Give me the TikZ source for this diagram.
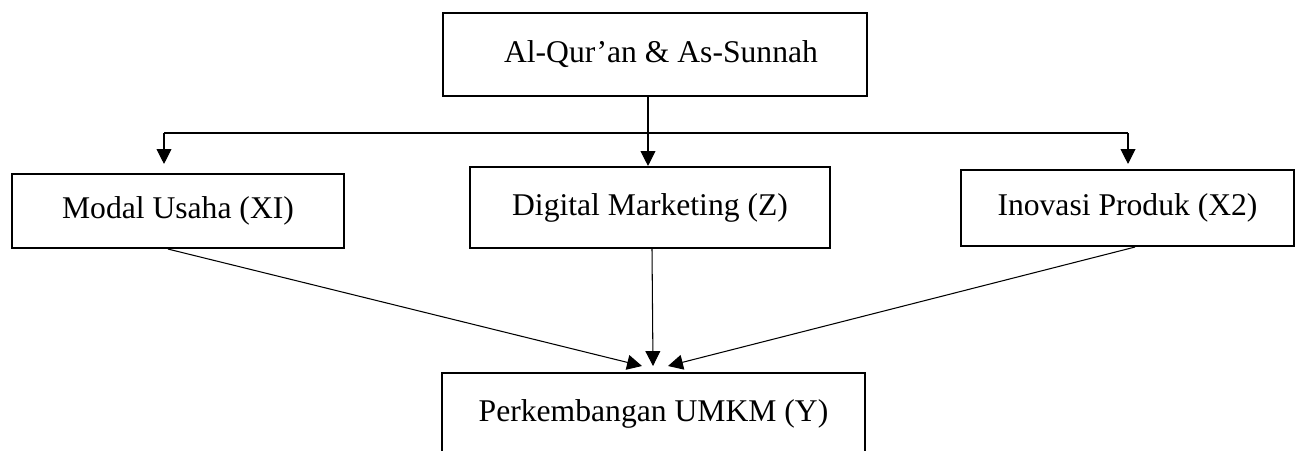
\documentclass[tikz,border=0pt]{standalone}
\usepackage{fontspec}
\setmainfont{Liberation Serif}
\usetikzlibrary{arrows.meta}

\tikzset{
  kotak/.style={draw, line width=1.2pt, inner sep=0pt, font=\fontsize{18}{22}\selectfont},
  panah/.style={-{Triangle[width=8.5pt,length=8.5pt]}, line width=0.6pt},
  garis/.style={line width=0.6pt}
}

\begin{document}
\begin{tikzpicture}[x=0.02cm, y=-0.02cm]
    \useasboundingbox (0,0) rectangle (1301,450);

    \node[kotak, minimum width=8.48cm, minimum height=1.66cm] (quran) at (655,54.5) {\hspace{0.24cm}Al-Qur’an \& As-Sunnah};
    \node[kotak, minimum width=6.64cm, minimum height=1.48cm] (modal) at (178,211) {Modal Usaha (XI)};
    \node[kotak, minimum width=7.2cm, minimum height=1.62cm] (digital) at (650,207.5) {Digital Marketing (Z)};
    \node[kotak, minimum width=6.66cm, minimum height=1.52cm] (inovasi) at (1127.5,208) {Inovasi Produk (X2)};
    \node[kotak, minimum width=8.46cm, minimum height=1.64cm] (umkm) at (653.5,414) {Perkembangan UMKM (Y)};

    \coordinate (jl) at (164,133);
    \coordinate (jm) at (648,133);
    \coordinate (jr) at (1128,133);
    \coordinate (tl) at (642,366);
    \coordinate (tm) at (653,366);
    \coordinate (tr) at (668,366);

    % dari Al-Qur'an ke tiga variabel
    \draw[garis] (jl) -- (jr);
    \draw[panah] (quran.south -| jm) -- (digital.north -| jm);
    \draw[panah] (jl) -- ([yshift=0.18cm]jl |- modal.north);
    \draw[panah] (jr) -- ([yshift=0.1cm]jr |- inovasi.north);

    % ke perkembangan UMKM
    \draw[panah] ([xshift=-0.2cm]modal.south) -- (tl);
    \draw[panah] ([xshift=0.04cm]digital.south) -- (tm);
    \draw[panah] ([xshift=0.15cm]inovasi.south) -- (tr);
\end{tikzpicture}
\end{document}
